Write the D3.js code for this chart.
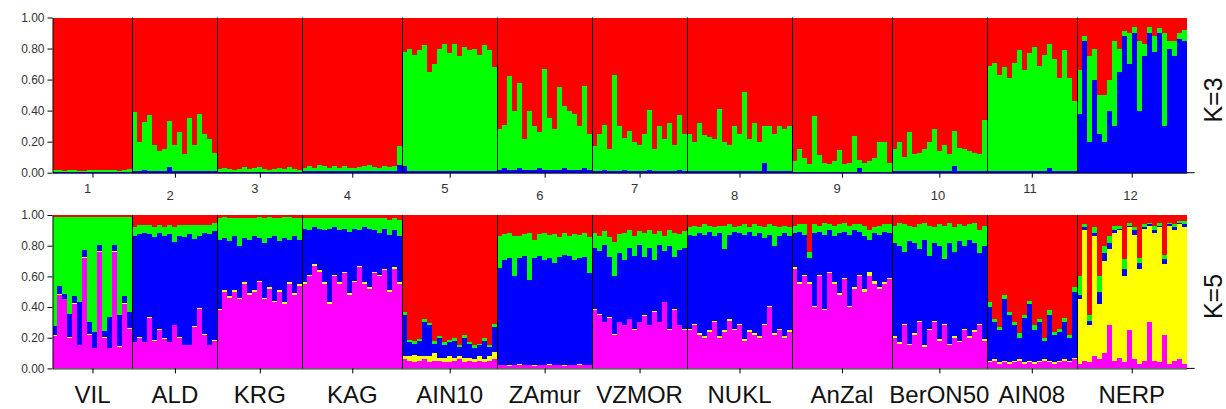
<!DOCTYPE html>
<html>
<head>
<meta charset="utf-8">
<script src="https://cdn.jsdelivr.net/npm/d3@7"></script>
<style>
  body { margin: 0; background: #fff; }
  svg { display: block; font-family: "Liberation Sans", Arial, sans-serif; }
</style>
</head>
<body>
<svg id="chart" width="1226" height="409"></svg>
<script>
// population labels
const popNumbers = ["1", "2", "3", "4", "5", "6", "7", "8", "9", "10", "11", "12"];
const popNames = ["VIL", "ALD", "KRG", "KAG", "AIN10", "ZAmur", "VZMOR", "NUKL", "AnZal", "BerON50", "AIN08", "NERP"];
const yTicks = [0, 0.2, 0.4, 0.6, 0.8, 1];

// K=3 membership (red = the rest)
const k3Blue = [
  [0.006, 0.005, 0.004, 0.006, 0.005, 0.005, 0.004, 0.006, 0.005, 0.005, 0.004, 0.006, 0.005, 0.004, 0.005, 0.006],
  [0.01, 0.01, 0.015, 0.01, 0.01, 0.01, 0.01, 0.035, 0.01, 0.01, 0.01, 0.01, 0.01, 0.01, 0.01, 0.01, 0.01],
  [0.005, 0.005, 0.005, 0.005, 0.005, 0.005, 0.005, 0.005, 0.005, 0.005, 0.005, 0.005, 0.005, 0.005, 0.005, 0.005, 0.005],
  [0.01, 0.01, 0.01, 0.01, 0.01, 0.01, 0.01, 0.01, 0.01, 0.01, 0.01, 0.01, 0.01, 0.01, 0.01, 0.01, 0.01, 0.01, 0.01, 0.05],
  [0.04, 0.01, 0.01, 0.01, 0.01, 0.01, 0.01, 0.01, 0.01, 0.01, 0.01, 0.01, 0.01, 0.01, 0.01, 0.01, 0.01, 0.01, 0.01],
  [0.02, 0.03, 0.02, 0.02, 0.03, 0.02, 0.02, 0.02, 0.03, 0.02, 0.02, 0.02, 0.02, 0.03, 0.02, 0.02, 0.02, 0.03, 0.02],
  [0.01, 0.01, 0.015, 0.01, 0.01, 0.01, 0.015, 0.01, 0.01, 0.01, 0.01, 0.015, 0.01, 0.01, 0.01, 0.01, 0.01, 0.015, 0.01],
  [0.01, 0.01, 0.01, 0.01, 0.01, 0.01, 0.01, 0.01, 0.01, 0.01, 0.01, 0.01, 0.01, 0.01, 0.01, 0.06, 0.01, 0.01, 0.01, 0.01, 0.01],
  [0.005, 0.005, 0.005, 0.005, 0.005, 0.005, 0.005, 0.005, 0.005, 0.005, 0.005, 0.005, 0.005, 0.03, 0.005, 0.005, 0.005, 0.005, 0.005, 0.005],
  [0.01, 0.01, 0.01, 0.01, 0.01, 0.01, 0.01, 0.01, 0.01, 0.01, 0.01, 0.01, 0.04, 0.01, 0.01, 0.01, 0.01, 0.01, 0.01],
  [0.01, 0.01, 0.01, 0.01, 0.01, 0.01, 0.01, 0.01, 0.01, 0.01, 0.01, 0.01, 0.03, 0.01, 0.01, 0.01, 0.01, 0.01],
  [0.38, 0.85, 0.2, 0.6, 0.25, 0.2, 0.4, 0.3, 0.65, 0.88, 0.7, 0.9, 0.4, 0.75, 0.9, 0.78, 0.9, 0.3, 0.8, 0.75, 0.86, 0.85]
];
const k3Green = [
  [0.01, 0.015, 0.01, 0.012, 0.01, 0.008, 0.01, 0.012, 0.01, 0.01, 0.015, 0.01, 0.012, 0.01, 0.01, 0.015],
  [0.38, 0.19, 0.31, 0.36, 0.17, 0.13, 0.14, 0.3, 0.17, 0.25, 0.11, 0.34, 0.17, 0.37, 0.24, 0.21, 0.12],
  [0.02, 0.025, 0.02, 0.015, 0.02, 0.03, 0.02, 0.025, 0.03, 0.02, 0.015, 0.02, 0.025, 0.02, 0.03, 0.02, 0.015],
  [0.02, 0.03, 0.02, 0.04, 0.03, 0.02, 0.03, 0.02, 0.035, 0.02, 0.02, 0.025, 0.03, 0.04, 0.025, 0.02, 0.03, 0.025, 0.03, 0.12],
  [0.74, 0.79, 0.75, 0.78, 0.81, 0.64, 0.69, 0.79, 0.82, 0.76, 0.82, 0.74, 0.8, 0.78, 0.79, 0.75, 0.81, 0.78, 0.67],
  [0.26, 0.28, 0.6, 0.38, 0.55, 0.2, 0.38, 0.28, 0.23, 0.65, 0.33, 0.26, 0.53, 0.4, 0.38, 0.36, 0.28, 0.53, 0.23],
  [0.16, 0.24, 0.29, 0.14, 0.62, 0.29, 0.21, 0.26, 0.19, 0.17, 0.24, 0.39, 0.14, 0.29, 0.21, 0.31, 0.17, 0.36, 0.24],
  [0.24, 0.19, 0.31, 0.23, 0.22, 0.21, 0.4, 0.19, 0.17, 0.29, 0.24, 0.51, 0.21, 0.31, 0.19, 0.24, 0.29, 0.24, 0.29, 0.27, 0.29],
  [0.07, 0.15, 0.09, 0.05, 0.36, 0.11, 0.06, 0.05, 0.07, 0.14, 0.05, 0.06, 0.23, 0.05, 0.06, 0.07, 0.09, 0.19, 0.19, 0.06],
  [0.14, 0.19, 0.09, 0.25, 0.11, 0.12, 0.14, 0.19, 0.27, 0.13, 0.17, 0.11, 0.23, 0.15, 0.14, 0.13, 0.12, 0.11, 0.33],
  [0.68, 0.7, 0.62, 0.67, 0.6, 0.7, 0.78, 0.65, 0.76, 0.8, 0.68, 0.75, 0.8, 0.72, 0.6, 0.78, 0.6, 0.45],
  [0.28, 0.03, 0.55, 0.2, 0.25, 0.3, 0.2, 0.55, 0.15, 0.03, 0.2, 0.04, 0.45, 0.08, 0.04, 0.1, 0.03, 0.6, 0.05, 0.1, 0.04, 0.07]
];

// K=5 membership (red = the rest)
const k5Magenta = [
  [0.21, 0.48, 0.45, 0.2, 0.42, 0.15, 0.72, 0.22, 0.13, 0.76, 0.2, 0.13, 0.76, 0.14, 0.42, 0.26],
  [0.17, 0.2, 0.17, 0.33, 0.18, 0.25, 0.19, 0.17, 0.28, 0.2, 0.15, 0.15, 0.27, 0.39, 0.22, 0.15, 0.18],
  [0.38, 0.5, 0.46, 0.5, 0.45, 0.55, 0.48, 0.5, 0.56, 0.45, 0.52, 0.43, 0.5, 0.42, 0.55, 0.48, 0.54],
  [0.55, 0.6, 0.67, 0.63, 0.55, 0.42, 0.6, 0.55, 0.62, 0.48, 0.56, 0.66, 0.55, 0.52, 0.62, 0.6, 0.64, 0.5, 0.65, 0.55],
  [0.06, 0.05, 0.04, 0.05, 0.06, 0.04, 0.05, 0.05, 0.04, 0.04, 0.05, 0.06, 0.04, 0.05, 0.04, 0.05, 0.04, 0.05, 0.06],
  [0.02, 0.02, 0.015, 0.02, 0.025, 0.02, 0.02, 0.015, 0.02, 0.02, 0.025, 0.02, 0.02, 0.015, 0.02, 0.02, 0.025, 0.02, 0.02],
  [0.38, 0.35, 0.3, 0.33, 0.22, 0.3, 0.28, 0.32, 0.25, 0.3, 0.34, 0.28, 0.37, 0.3, 0.43, 0.25, 0.38, 0.28, 0.25],
  [0.25, 0.28, 0.22, 0.2, 0.24, 0.3, 0.2, 0.24, 0.31, 0.25, 0.28, 0.18, 0.24, 0.22, 0.2, 0.28, 0.4, 0.22, 0.25, 0.2, 0.24],
  [0.65, 0.55, 0.6, 0.55, 0.4, 0.6, 0.38, 0.62, 0.55, 0.48, 0.58, 0.4, 0.52, 0.6, 0.5, 0.6, 0.55, 0.52, 0.55, 0.58],
  [0.2, 0.16, 0.28, 0.15, 0.22, 0.3, 0.14, 0.25, 0.3, 0.18, 0.28, 0.15, 0.2, 0.17, 0.25, 0.2, 0.24, 0.28, 0.18],
  [0.04, 0.05, 0.03, 0.04, 0.03, 0.04, 0.05, 0.03, 0.04, 0.03, 0.04, 0.05, 0.04, 0.03, 0.04, 0.05, 0.04, 0.06],
  [0.03, 0.05, 0.04, 0.08, 0.06, 0.1, 0.28, 0.05, 0.07, 0.04, 0.25, 0.06, 0.03, 0.05, 0.3, 0.05, 0.04, 0.22, 0.03, 0.05, 0.06, 0.03]
];
const k5Yellow = [
  [0.005, 0.005, 0.005, 0.005, 0.005, 0.005, 0.005, 0.005, 0.005, 0.005, 0.005, 0.005, 0.005, 0.005, 0.005, 0.005],
  [0.005, 0.005, 0.005, 0.005, 0.005, 0.005, 0.005, 0.005, 0.005, 0.005, 0.005, 0.005, 0.005, 0.005, 0.005, 0.005, 0.005],
  [0.01, 0.01, 0.01, 0.01, 0.01, 0.01, 0.01, 0.01, 0.01, 0.01, 0.01, 0.01, 0.01, 0.01, 0.01, 0.01, 0.01],
  [0.01, 0.01, 0.01, 0.01, 0.01, 0.01, 0.01, 0.01, 0.01, 0.01, 0.01, 0.01, 0.01, 0.01, 0.01, 0.01, 0.01, 0.01, 0.01, 0.01],
  [0.02, 0.03, 0.05, 0.03, 0.02, 0.04, 0.05, 0.02, 0.03, 0.04, 0.02, 0.02, 0.03, 0.02, 0.02, 0.03, 0.02, 0.03, 0.05],
  [0.005, 0.005, 0.005, 0.005, 0.005, 0.005, 0.005, 0.005, 0.005, 0.005, 0.005, 0.005, 0.005, 0.005, 0.005, 0.005, 0.005, 0.005, 0.005],
  [0.005, 0.005, 0.005, 0.005, 0.005, 0.005, 0.005, 0.005, 0.005, 0.005, 0.005, 0.005, 0.005, 0.005, 0.005, 0.005, 0.005, 0.005, 0.005],
  [0.01, 0.01, 0.01, 0.01, 0.01, 0.01, 0.01, 0.01, 0.01, 0.01, 0.01, 0.01, 0.01, 0.01, 0.01, 0.01, 0.01, 0.01, 0.01, 0.01, 0.01],
  [0.01, 0.01, 0.01, 0.01, 0.01, 0.01, 0.01, 0.01, 0.01, 0.01, 0.01, 0.01, 0.01, 0.01, 0.02, 0.03, 0.02, 0.01, 0.01, 0.01],
  [0.01, 0.01, 0.01, 0.01, 0.01, 0.01, 0.01, 0.01, 0.01, 0.01, 0.01, 0.01, 0.01, 0.01, 0.01, 0.01, 0.01, 0.01, 0.01],
  [0.01, 0.01, 0.01, 0.01, 0.01, 0.01, 0.01, 0.01, 0.01, 0.01, 0.01, 0.01, 0.01, 0.01, 0.01, 0.01, 0.01, 0.01],
  [0.42, 0.85, 0.24, 0.78, 0.36, 0.60, 0.50, 0.83, 0.83, 0.56, 0.67, 0.81, 0.62, 0.86, 0.63, 0.83, 0.88, 0.46, 0.90, 0.85, 0.88, 0.89]
];
const k5Blue = [
  [0.06, 0.05, 0.03, 0.15, 0.05, 0.28, 0.05, 0.08, 0.1, 0.04, 0.04, 0.2, 0.04, 0.2, 0.05, 0.1],
  [0.69, 0.67, 0.71, 0.54, 0.67, 0.63, 0.67, 0.70, 0.54, 0.66, 0.70, 0.72, 0.57, 0.47, 0.66, 0.72, 0.71],
  [0.45, 0.34, 0.36, 0.35, 0.34, 0.29, 0.35, 0.35, 0.28, 0.36, 0.32, 0.42, 0.32, 0.42, 0.28, 0.37, 0.29],
  [0.35, 0.29, 0.24, 0.27, 0.34, 0.48, 0.31, 0.34, 0.28, 0.40, 0.34, 0.23, 0.36, 0.38, 0.27, 0.27, 0.26, 0.36, 0.24, 0.30],
  [0.27, 0.09, 0.07, 0.10, 0.22, 0.20, 0.06, 0.13, 0.08, 0.09, 0.11, 0.06, 0.13, 0.09, 0.07, 0.07, 0.12, 0.06, 0.16],
  [0.63, 0.68, 0.70, 0.58, 0.69, 0.71, 0.55, 0.70, 0.71, 0.68, 0.69, 0.66, 0.70, 0.72, 0.71, 0.68, 0.69, 0.70, 0.60],
  [0.40, 0.41, 0.50, 0.39, 0.38, 0.45, 0.42, 0.46, 0.48, 0.50, 0.38, 0.50, 0.33, 0.50, 0.33, 0.54, 0.34, 0.49, 0.53],
  [0.61, 0.57, 0.65, 0.66, 0.64, 0.55, 0.67, 0.53, 0.55, 0.63, 0.59, 0.68, 0.64, 0.63, 0.67, 0.56, 0.46, 0.57, 0.60, 0.67, 0.61],
  [0.22, 0.33, 0.26, 0.16, 0.47, 0.28, 0.48, 0.27, 0.30, 0.39, 0.30, 0.46, 0.37, 0.28, 0.34, 0.21, 0.31, 0.34, 0.33, 0.29],
  [0.61, 0.63, 0.47, 0.67, 0.59, 0.47, 0.69, 0.47, 0.51, 0.61, 0.42, 0.66, 0.55, 0.65, 0.54, 0.63, 0.57, 0.46, 0.61],
  [0.35, 0.24, 0.21, 0.40, 0.31, 0.23, 0.14, 0.29, 0.37, 0.21, 0.25, 0.12, 0.30, 0.18, 0.19, 0.24, 0.15, 0.43],
  [0.03, 0.02, 0.03, 0.02, 0.08, 0.05, 0.04, 0.02, 0.01, 0.05, 0.01, 0.03, 0.04, 0.01, 0.01, 0.02, 0.01, 0.03, 0.01, 0.02, 0.01, 0.02]
];
const k5Green = [
  [0.71, 0.45, 0.50, 0.63, 0.51, 0.55, 0.21, 0.68, 0.75, 0.18, 0.74, 0.65, 0.18, 0.64, 0.51, 0.62],
  [0.06, 0.06, 0.05, 0.06, 0.07, 0.05, 0.06, 0.06, 0.1, 0.07, 0.08, 0.06, 0.09, 0.07, 0.05, 0.06, 0.05],
  [0.14, 0.14, 0.15, 0.12, 0.18, 0.13, 0.14, 0.12, 0.14, 0.16, 0.14, 0.12, 0.15, 0.14, 0.15, 0.12, 0.14],
  [0.07, 0.08, 0.06, 0.07, 0.08, 0.07, 0.06, 0.08, 0.07, 0.09, 0.07, 0.08, 0.06, 0.07, 0.08, 0.1, 0.07, 0.1, 0.08, 0.11],
  [0.02, 0.015, 0.02, 0.01, 0.02, 0.015, 0.02, 0.01, 0.02, 0.015, 0.02, 0.01, 0.02, 0.015, 0.02, 0.01, 0.02, 0.015, 0.02],
  [0.21, 0.17, 0.16, 0.26, 0.14, 0.14, 0.31, 0.12, 0.14, 0.18, 0.15, 0.19, 0.13, 0.14, 0.13, 0.17, 0.15, 0.16, 0.23],
  [0.10, 0.10, 0.09, 0.13, 0.22, 0.12, 0.18, 0.12, 0.13, 0.09, 0.16, 0.12, 0.17, 0.09, 0.10, 0.11, 0.16, 0.10, 0.11],
  [0.05, 0.07, 0.04, 0.07, 0.04, 0.06, 0.05, 0.15, 0.07, 0.03, 0.05, 0.07, 0.03, 0.08, 0.05, 0.07, 0.07, 0.13, 0.06, 0.05, 0.06],
  [0.05, 0.05, 0.07, 0.04, 0.06, 0.04, 0.08, 0.04, 0.07, 0.06, 0.06, 0.06, 0.04, 0.05, 0.07, 0.06, 0.04, 0.06, 0.05, 0.06],
  [0.11, 0.15, 0.18, 0.10, 0.10, 0.16, 0.11, 0.20, 0.10, 0.14, 0.22, 0.13, 0.16, 0.11, 0.13, 0.10, 0.13, 0.15, 0.13],
  [0.03, 0.02, 0.02, 0.03, 0.02, 0.02, 0.03, 0.02, 0.02, 0.03, 0.02, 0.02, 0.03, 0.02, 0.02, 0.03, 0.02, 0.03],
  [0.12, 0.02, 0.04, 0.04, 0.1, 0.05, 0.04, 0.03, 0.02, 0.06, 0.02, 0.02, 0.03, 0.02, 0.01, 0.03, 0.02, 0.03, 0.01, 0.02, 0.01, 0.02]
];

const colors = { magenta: "#ff00ff", yellow: "#ffff00", blue: "#0000ff", green: "#00ff00", red: "#ff0000" };

const svg = d3.select("#chart");

const popSizes = k3Green.map(a => a.length);
const nInd = d3.sum(popSizes);
const starts = Array.from(d3.cumsum([0, ...popSizes]));   // start index of every population
const mids = popSizes.map((n, i) => starts[i] + n / 2);

const x = d3.scaleLinear().domain([0, nInd]).range([52.5, 1186.7]);

const panels = [
  { top: 17.5, bottom: 172.7, keys: ["blue", "green", "red"],
    q: { blue: k3Blue, green: k3Green }, kLabel: "K=3", kY: 100 },
  { top: 215, bottom: 368.4, keys: ["magenta", "yellow", "blue", "green", "red"],
    q: { magenta: k5Magenta, yellow: k5Yellow, blue: k5Blue, green: k5Green }, kLabel: "K=5", kY: 296.5 }
];

panels.forEach((p, pIdx) => {
  const y = d3.scaleLinear().domain([0, 1]).range([p.bottom, p.top]);

  // one row per individual
  const rows = [];
  popSizes.forEach((n, pi) => {
    for (let j = 0; j < n; j++) {
      const row = { idx: starts[pi] + j };
      let sum = 0;
      p.keys.filter(k => k !== "red").forEach(k => { row[k] = p.q[k][pi][j]; sum += row[k]; });
      row.red = Math.max(0, 1 - sum);
      rows.push(row);
    }
  });

  const series = d3.stack().keys(p.keys)(rows);

  const g = svg.append("g");
  g.selectAll("g.layer")
    .data(series)
    .join("g")
      .attr("class", "layer")
      .attr("fill", d => colors[d.key])
      .attr("shape-rendering", "crispEdges")
    .selectAll("rect")
    .data(d => d)
    .join("rect")
      .attr("x", d => x(d.data.idx))
      .attr("width", d => x(d.data.idx + 1) - x(d.data.idx))
      .attr("y", d => y(d[1]))
      .attr("height", d => y(d[0]) - y(d[1]));

  // population separators
  g.selectAll("line.sep")
    .data(starts.slice(1, popSizes.length))
    .join("line")
      .attr("class", "sep")
      .attr("x1", d => Math.round(x(d)) + 0.5)
      .attr("x2", d => Math.round(x(d)) + 0.5)
      .attr("y1", p.top)
      .attr("y2", p.bottom)
      .attr("stroke", "#000")
      .attr("stroke-width", 1);

  // y axis
  const ya = svg.append("g")
    .attr("transform", `translate(${x(0)},0)`)
    .call(d3.axisLeft(y).tickValues(yTicks).tickFormat(d3.format(".2f")).tickSize(5).tickSizeOuter(0));
  ya.select(".domain").attr("stroke", "#000");
  ya.selectAll("text").attr("font-size", 12).attr("fill", "#333").attr("font-family", "Liberation Sans, Arial, sans-serif");

  // x axis
  const xa = svg.append("g")
    .attr("transform", `translate(0,${p.bottom})`)
    .call(d3.axisBottom(x).tickValues(mids).tickFormat("").tickSize(5).tickSizeOuter(0));
  xa.select(".domain").attr("stroke", "#000");
  xa.append("line")
    .attr("x1", x(nInd)).attr("x2", x(nInd) + 8)
    .attr("stroke", "#000");

  if (pIdx === 0) {
    svg.append("g").selectAll("text")
      .data(popNumbers)
      .join("text")
        .attr("x", (d, i) => x(mids[i]) - 8.5)
        .attr("y", (d, i) => p.bottom + (i % 2 === 0 ? 20 : 27))
        .attr("font-size", 13)
        .attr("fill", "#333")
        .text(d => d);
  } else {
    svg.append("g").selectAll("text")
      .data(popNames)
      .join("text")
        .attr("x", (d, i) => x(mids[i]))
        .attr("y", 403)
        .attr("text-anchor", "middle")
        .attr("font-size", 24)
        .attr("fill", "#111")
        .text(d => d);
  }

  svg.append("text")
    .attr("transform", `translate(1222,${p.kY}) rotate(-90)`)
    .attr("text-anchor", "middle")
    .attr("font-size", 25)
    .attr("fill", "#111")
    .text(p.kLabel);
});
</script>
</body>
</html>
